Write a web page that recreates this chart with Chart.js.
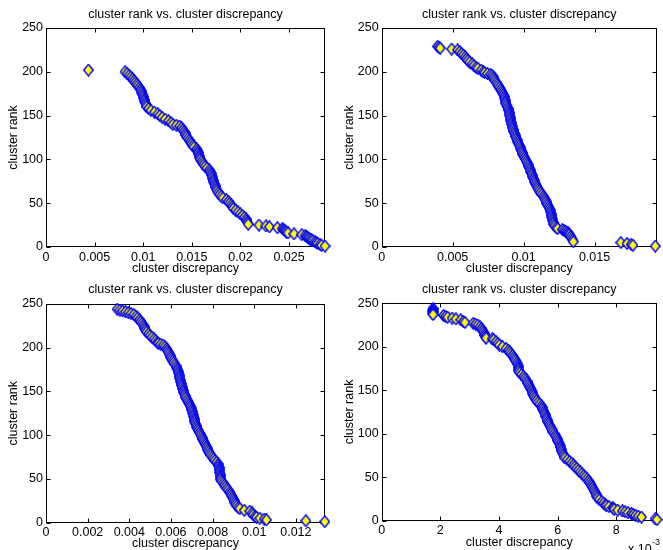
<!DOCTYPE html>
<html>
<head>
<meta charset="utf-8">
<script src="https://cdn.jsdelivr.net/npm/chart.js@4/dist/chart.umd.min.js"></script>
<style>
  body { margin: 0; background: #fff; }
  #wrap { position: relative; width: 663px; height: 550px; }
  canvas { position: absolute; }
</style>
</head>
<body>
<div id="wrap">
  <canvas id="c1" style="left:0;top:0" width="331" height="275"></canvas>
  <canvas id="c2" style="left:331px;top:0" width="332" height="275"></canvas>
  <canvas id="c3" style="left:0;top:275px" width="331" height="275"></canvas>
  <canvas id="c4" style="left:331px;top:275px" width="332" height="275"></canvas>
</div>
<script>
// values (rank vs discrepancy)
const rank1 = [202, 200, 198, 196, 194, 192, 190, 188, 186, 184, 182, 180, 178, 176, 174, 172, 170, 168, 166, 164, 162, 160, 158, 156, 154, 152, 150, 148, 146, 144, 142, 140, 139, 138, 136, 134, 132, 130, 128, 126, 124, 122, 120, 118, 116, 114, 112, 110, 108, 106, 104, 102, 100, 98, 96, 94, 92, 90, 88, 86, 84, 82, 80, 78, 76, 74, 72, 70, 68, 66, 64, 62, 60, 58, 56, 54, 52, 50, 48, 46, 44, 42, 40, 38, 36, 34, 32, 30, 28, 26, 25, 24, 23, 22, 21, 20, 19, 18, 17, 16, 15, 14, 13, 12, 11, 10, 9, 8, 7, 6, 5, 4, 3, 2, 1];
const disc1 = [0.00436, 0.00813, 0.00835, 0.00855, 0.00872, 0.00890, 0.00905, 0.00918, 0.00932, 0.00945, 0.00960, 0.00972, 0.00980, 0.00987, 0.00994, 0.01001, 0.01007, 0.01012, 0.01018, 0.01024, 0.01030, 0.01036, 0.01055, 0.01080, 0.01115, 0.01150, 0.01170, 0.01195, 0.01225, 0.01260, 0.01285, 0.01305, 0.01340, 0.01375, 0.01395, 0.01408, 0.01420, 0.01430, 0.01438, 0.01447, 0.01460, 0.01473, 0.01485, 0.01497, 0.01510, 0.01522, 0.01550, 0.01560, 0.01567, 0.01573, 0.01578, 0.01582, 0.01586, 0.01600, 0.01612, 0.01624, 0.01636, 0.01655, 0.01680, 0.01690, 0.01698, 0.01705, 0.01710, 0.01716, 0.01722, 0.01728, 0.01735, 0.01741, 0.01747, 0.01753, 0.01760, 0.01772, 0.01786, 0.01802, 0.01820, 0.01855, 0.01875, 0.01890, 0.01905, 0.01918, 0.01927, 0.01950, 0.01975, 0.01998, 0.02020, 0.02040, 0.02058, 0.02066, 0.02073, 0.02080, 0.02191, 0.02263, 0.02298, 0.02380, 0.02431, 0.02445, 0.02455, 0.02465, 0.02476, 0.02490, 0.02551, 0.02631, 0.02665, 0.02680, 0.02693, 0.02704, 0.02716, 0.02730, 0.02745, 0.02767, 0.02780, 0.02795, 0.02819, 0.02835, 0.02870];

const rank2 = [229, 228, 227, 226, 225, 223, 221, 219, 217, 215, 213, 211, 209, 207, 205, 204, 202, 200, 199, 198, 197, 196, 194, 192, 190, 188, 186, 184, 182, 180, 178, 176, 174, 172, 170, 168, 166, 164, 162, 160, 158, 156, 154, 152, 150, 148, 146, 144, 142, 140, 138, 136, 134, 132, 130, 128, 126, 124, 122, 120, 118, 116, 114, 112, 110, 108, 106, 104, 102, 100, 98, 96, 94, 92, 90, 88, 86, 84, 82, 80, 78, 76, 74, 72, 70, 68, 66, 64, 62, 60, 58, 56, 54, 52, 50, 48, 46, 44, 42, 40, 38, 36, 34, 32, 30, 28, 26, 24, 22, 21, 20, 19, 18, 17, 16, 15, 14, 12, 10, 8, 6, 5, 4, 3, 2, 1];
const disc2 = [0.00394, 0.00404, 0.00412, 0.00493, 0.00535, 0.00550, 0.00563, 0.00575, 0.00588, 0.00598, 0.00607, 0.00620, 0.00638, 0.00650, 0.00665, 0.00678, 0.00701, 0.00716, 0.00725, 0.00745, 0.00765, 0.00778, 0.00785, 0.00791, 0.00798, 0.00806, 0.00813, 0.00821, 0.00829, 0.00838, 0.00845, 0.00851, 0.00857, 0.00863, 0.00866, 0.00869, 0.00872, 0.00875, 0.00880, 0.00886, 0.00891, 0.00896, 0.00899, 0.00901, 0.00904, 0.00906, 0.00909, 0.00911, 0.00914, 0.00917, 0.00920, 0.00923, 0.00926, 0.00931, 0.00935, 0.00940, 0.00944, 0.00949, 0.00954, 0.00959, 0.00964, 0.00970, 0.00976, 0.00981, 0.00986, 0.00989, 0.00994, 0.01000, 0.01006, 0.01013, 0.01019, 0.01025, 0.01031, 0.01037, 0.01042, 0.01046, 0.01051, 0.01055, 0.01060, 0.01065, 0.01070, 0.01075, 0.01080, 0.01085, 0.01091, 0.01097, 0.01103, 0.01110, 0.01119, 0.01129, 0.01139, 0.01146, 0.01152, 0.01158, 0.01164, 0.01170, 0.01176, 0.01182, 0.01188, 0.01191, 0.01194, 0.01197, 0.01200, 0.01203, 0.01206, 0.01209, 0.01214, 0.01220, 0.01230, 0.01240, 0.01273, 0.01285, 0.01296, 0.01305, 0.01312, 0.01318, 0.01324, 0.01332, 0.01339, 0.01345, 0.01350, 0.01685, 0.01729, 0.01758, 0.01770, 0.01928];

const rank3 = [244, 243, 242, 241, 240, 239, 238, 236, 234, 232, 230, 228, 226, 224, 222, 220, 218, 216, 214, 212, 210, 208, 206, 205, 204, 203, 201, 199, 197, 195, 193, 191, 189, 187, 185, 183, 181, 179, 177, 175, 173, 171, 169, 167, 165, 163, 161, 159, 157, 155, 153, 151, 149, 147, 145, 143, 141, 139, 137, 135, 133, 131, 129, 127, 125, 123, 121, 119, 117, 115, 113, 111, 109, 107, 105, 103, 101, 99, 97, 95, 93, 91, 89, 87, 85, 83, 81, 79, 77, 75, 73, 71, 69, 67, 65, 63, 61, 59, 57, 55, 53, 51, 49, 47, 45, 43, 41, 39, 37, 35, 33, 31, 29, 27, 25, 23, 21, 19, 17, 16, 14, 13, 11, 9, 7, 6, 5, 4, 3, 2, 1];
const disc3 = [0.00342, 0.00355, 0.00368, 0.00382, 0.00395, 0.00408, 0.00422, 0.00432, 0.00440, 0.00449, 0.00455, 0.00461, 0.00467, 0.00471, 0.00475, 0.00479, 0.00483, 0.00492, 0.00500, 0.00509, 0.00519, 0.00527, 0.00535, 0.00539, 0.00551, 0.00563, 0.00571, 0.00579, 0.00583, 0.00587, 0.00591, 0.00596, 0.00600, 0.00604, 0.00609, 0.00613, 0.00619, 0.00625, 0.00629, 0.00632, 0.00635, 0.00637, 0.00640, 0.00642, 0.00643, 0.00645, 0.00647, 0.00649, 0.00651, 0.00654, 0.00657, 0.00660, 0.00662, 0.00665, 0.00668, 0.00672, 0.00677, 0.00682, 0.00686, 0.00690, 0.00693, 0.00697, 0.00700, 0.00703, 0.00706, 0.00708, 0.00710, 0.00712, 0.00714, 0.00715, 0.00718, 0.00722, 0.00725, 0.00728, 0.00732, 0.00737, 0.00741, 0.00745, 0.00750, 0.00754, 0.00758, 0.00762, 0.00766, 0.00770, 0.00774, 0.00778, 0.00782, 0.00787, 0.00792, 0.00798, 0.00804, 0.00811, 0.00819, 0.00827, 0.00829, 0.00831, 0.00833, 0.00834, 0.00835, 0.00836, 0.00837, 0.00838, 0.00840, 0.00845, 0.00851, 0.00857, 0.00863, 0.00869, 0.00875, 0.00882, 0.00886, 0.00890, 0.00895, 0.00899, 0.00903, 0.00907, 0.00911, 0.00916, 0.00923, 0.00931, 0.00952, 0.00979, 0.00990, 0.00995, 0.01004, 0.01011, 0.01027, 0.01048, 0.01059, 0.01248, 0.01339];

const rank4 = [244, 243, 242, 241, 240, 239, 238, 237, 236, 235, 234, 233, 232, 231, 229, 228, 227, 226, 225, 223, 221, 219, 217, 215, 213, 211, 210, 209, 208, 206, 204, 202, 200, 198, 196, 194, 192, 190, 188, 186, 184, 182, 180, 178, 176, 174, 172, 170, 168, 166, 164, 162, 160, 158, 156, 154, 152, 150, 148, 146, 144, 142, 140, 138, 136, 134, 132, 130, 128, 126, 124, 122, 120, 118, 116, 114, 112, 110, 108, 106, 104, 102, 100, 98, 96, 94, 92, 90, 88, 86, 84, 82, 80, 78, 76, 74, 72, 70, 68, 66, 64, 62, 60, 58, 56, 54, 52, 50, 48, 46, 44, 42, 40, 38, 36, 34, 32, 30, 28, 26, 24, 22, 20, 18, 17, 16, 15, 14, 13, 12, 11, 10, 9, 8, 7, 6, 5, 4, 2, 1];
const disc4 = [0.00175, 0.00175, 0.00174, 0.00175, 0.00174, 0.00175, 0.00174, 0.00175, 0.00211, 0.00218, 0.00225, 0.00240, 0.00253, 0.00270, 0.00278, 0.00284, 0.00312, 0.00320, 0.00328, 0.00335, 0.00340, 0.00344, 0.00347, 0.00350, 0.00352, 0.00354, 0.00356, 0.00377, 0.00382, 0.00390, 0.00396, 0.00401, 0.00412, 0.00424, 0.00432, 0.00436, 0.00441, 0.00446, 0.00450, 0.00453, 0.00457, 0.00461, 0.00464, 0.00465, 0.00466, 0.00467, 0.00468, 0.00471, 0.00477, 0.00484, 0.00488, 0.00492, 0.00496, 0.00499, 0.00502, 0.00505, 0.00508, 0.00511, 0.00513, 0.00515, 0.00517, 0.00520, 0.00524, 0.00528, 0.00533, 0.00539, 0.00545, 0.00548, 0.00550, 0.00553, 0.00555, 0.00557, 0.00560, 0.00562, 0.00564, 0.00567, 0.00569, 0.00572, 0.00575, 0.00578, 0.00581, 0.00584, 0.00588, 0.00592, 0.00595, 0.00598, 0.00601, 0.00604, 0.00607, 0.00609, 0.00610, 0.00612, 0.00614, 0.00616, 0.00619, 0.00622, 0.00625, 0.00633, 0.00641, 0.00648, 0.00654, 0.00659, 0.00665, 0.00671, 0.00677, 0.00683, 0.00689, 0.00694, 0.00700, 0.00705, 0.00709, 0.00713, 0.00716, 0.00719, 0.00722, 0.00725, 0.00728, 0.00731, 0.00734, 0.00737, 0.00742, 0.00751, 0.00757, 0.00763, 0.00766, 0.00775, 0.00788, 0.00790, 0.00793, 0.00805, 0.00821, 0.00830, 0.00840, 0.00852, 0.00858, 0.00866, 0.00875, 0.00886, 0.00933, 0.00939];

const xMax = [0.0287, 0.0194, 0.0134, 0.00939];
const xStep = [0.005, 0.005, 0.002, 0.002];
const yTicks = [0, 50, 100, 150, 200, 250];
const titleText = 'cluster rank vs. cluster discrepancy';
const xTitle = 'cluster discrepancy';
const yTitle = 'cluster rank';

const FONT = '"Liberation Sans", Arial, Helvetica, sans-serif';
Chart.defaults.font.family = FONT;
Chart.defaults.font.size = 12.5;
Chart.defaults.color = '#000';

// matlab style diamond: yellow face, blue edge
function makeDiamond() {
  const c = document.createElement('canvas');
  c.width = 11; c.height = 13;
  const g = c.getContext('2d');
  g.beginPath();
  g.moveTo(5.5, 0.8);
  g.lineTo(10.2, 6.5);
  g.lineTo(5.5, 12.2);
  g.lineTo(0.8, 6.5);
  g.closePath();
  g.fillStyle = '#ffff00';
  g.fill();
  g.strokeStyle = '#0000ff';
  g.lineWidth = 1.4;
  g.stroke();
  return c;
}
const diamond = makeDiamond();

// axes box with inward ticks, drawn under the markers
const boxPlugin = {
  id: 'boxPlugin',
  beforeDatasetsDraw(chart) {
    const { ctx, chartArea: a, scales: { x, y } } = chart;
    const L = Math.round(a.left) + 0.5, R = Math.round(a.right) - 0.5;
    const T = Math.round(a.top) + 0.5, B = Math.round(a.bottom) - 0.5;
    ctx.save();
    ctx.strokeStyle = '#000';
    ctx.lineWidth = 1;
    ctx.strokeRect(L, T, R - L, B - T);
    ctx.beginPath();
    x.ticks.forEach(t => {
      const px = Math.round(x.getPixelForValue(t.value)) + 0.5;
      ctx.moveTo(px, B); ctx.lineTo(px, B - 4);
      ctx.moveTo(px, T); ctx.lineTo(px, T + 4);
    });
    y.ticks.forEach(t => {
      const py = Math.round(y.getPixelForValue(t.value)) + 0.5;
      ctx.moveTo(L, py); ctx.lineTo(L + 4, py);
      ctx.moveTo(R, py); ctx.lineTo(R - 4, py);
    });
    ctx.stroke();
    ctx.restore();
  },
  afterDraw(chart, args, opts) {
    const { ctx, chartArea: a } = chart;
    ctx.save();
    ctx.fillStyle = '#000';
    ctx.font = '12.5px ' + FONT;
    ctx.textAlign = 'center';
    ctx.textBaseline = 'middle';
    ctx.fillText(titleText, (a.left + a.right) / 2, 15);
    if (opts.exponent) {
      ctx.textAlign = 'left';
      ctx.textBaseline = 'alphabetic';
      ctx.fillText('x 10', 297, 278);
      ctx.font = '9px ' + FONT;
      ctx.fillText('-3', 321, 269.5);
    }
    ctx.restore();
  }
};

function makePanel(id, ranks, discs, i, pad, xHeight, exponent) {
  const pts = ranks.map((r, k) => ({ x: discs[k], y: r }));
  new Chart(document.getElementById(id), {
    type: 'scatter',
    data: {
      datasets: [{
        data: pts,
        pointStyle: diamond,
        pointRadius: 5,
        pointHoverRadius: 5,
        clip: false
      }]
    },
    options: {
      responsive: false,
      animation: false,
      events: [],
      layout: { padding: pad },
      plugins: {
        legend: { display: false },
        tooltip: { enabled: false },
        boxPlugin: { exponent: exponent }
      },
      scales: {
        x: {
          type: 'linear',
          min: 0,
          max: xMax[i],
          grid: { display: false, drawTicks: false, tickLength: 0 },
          border: { display: false },
          ticks: {
            stepSize: xStep[i],
            includeBounds: false,
            autoSkip: false,
            maxRotation: 0,
            padding: 3,
            callback: v => exponent ? String(Math.round(v * 1000)) : String(parseFloat(v.toFixed(4)))
          },
          title: { display: true, text: xTitle, padding: { top: 0, bottom: -1.5 } },
          afterFit: s => { s.height = xHeight; }
        },
        y: {
          min: 0,
          max: 250,
          grid: { display: false, drawTicks: false, tickLength: 0 },
          border: { display: false },
          afterBuildTicks: s => { s.ticks = yTicks.map(v => ({ value: v })); },
          ticks: { padding: 3, autoSkip: false },
          title: { display: true, text: yTitle, padding: { top: 6, bottom: 0 } },
          afterFit: s => { s.width = 46; }
        }
      }
    },
    plugins: [boxPlugin]
  });
}

makePanel('c1', rank1, disc1, 0, { left: 0, right: 5, top: 28, bottom: 0 }, 28, false);
makePanel('c2', rank2, disc2, 1, { left: 4.7, right: 2, top: 28, bottom: 0 }, 28, false);
makePanel('c3', rank3, disc3, 2, { left: 0, right: 5, top: 29, bottom: 0 }, 27.5, false);
makePanel('c4', rank4, disc4, 3, { left: 4.7, right: 2, top: 28.3, bottom: 1.5 }, 28, true);
</script>
</body>
</html>
